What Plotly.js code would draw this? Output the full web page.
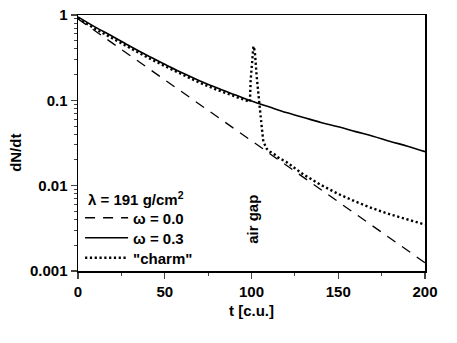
<!DOCTYPE html>
<html>
<head>
<meta charset="utf-8">
<script src="https://cdn.plot.ly/plotly-3.0.1.min.js"></script>
<style>
  html, body { margin: 0; padding: 0; background: #fff; }
  #chart { width: 457px; height: 343px; }
</style>
</head>
<body>
<div id="chart"></div>
<script>
var CHART = document.getElementById('chart');

// omega = 0.0 (dashed)
var tDash = [0, 25, 50, 75, 100, 125, 150, 175, 200];
var omega00 = [0.9, 0.395, 0.174, 0.0763, 0.0335, 0.0147, 0.00648, 0.00285, 0.00125];

// omega = 0.3 (solid)
var tSolid = [0, 10, 20, 30, 40, 50, 60, 70, 80, 90, 100, 110, 120, 130, 140, 150, 160, 170, 180, 190, 200];
var omega03 = [0.95, 0.72, 0.56, 0.43, 0.335, 0.265, 0.21, 0.17, 0.14, 0.117, 0.098, 0.084, 0.072, 0.063, 0.055, 0.049, 0.043, 0.038, 0.033, 0.029, 0.025];

// "charm" (dotted), with the air gap spike near t = 100
var tCharm = [0, 10, 20, 30, 40, 50, 60, 70, 80, 90, 95, 98, 99.1, 99.5, 100.1, 100.7, 101.1, 101.6, 102, 103, 103.9, 104.9, 105.9, 106.8, 108.8, 110.7, 113, 116, 120, 130, 140, 150, 160, 170, 180, 190, 200];
var charm = [0.92, 0.685, 0.53, 0.41, 0.318, 0.252, 0.2, 0.161, 0.133, 0.111, 0.102, 0.097, 0.096, 0.17, 0.27, 0.39, 0.43, 0.40, 0.355, 0.19, 0.11, 0.077, 0.049, 0.033, 0.027, 0.025, 0.0235, 0.021, 0.019, 0.0135, 0.0102, 0.008, 0.0065, 0.0054, 0.0046, 0.004, 0.0035];

var yTicks = [0.001, 0.01, 0.1, 1];
var yTickText = ['0.001', '0.01', '0.1', '1'];

var FONT = 'Liberation Sans, Arial, sans-serif';

var trace1 = {
  x: tDash,
  y: omega00,
  name: '<b>\u03c9 = 0.0</b>',
  mode: 'lines',
  legend: 'legend',
  line: { color: '#000', width: 1.3, dash: '10px,8px' }
};

var trace2 = {
  x: tSolid,
  y: omega03,
  name: '<b>\u03c9 = 0.3</b>',
  mode: 'lines',
  legend: 'legend2',
  line: { color: '#000', width: 1.6, shape: 'spline' }
};

var trace3 = {
  x: tCharm,
  y: charm,
  name: '<b>"charm"</b>',
  mode: 'lines',
  legend: 'legend3',
  line: { color: '#000', width: 2.4, dash: '2.2px,2.6px' }
};

function legendAt(y) {
  return {
    x: 0.006,
    y: y,
    xanchor: 'left',
    yanchor: 'middle',
    bgcolor: 'rgba(0,0,0,0)',
    borderwidth: 0,
    itemwidth: 43,
    font: { family: FONT, size: 15, color: '#000' }
  };
}

var layout = {
  width: 457,
  height: 343,
  margin: { l: 78, r: 32, t: 15, b: 72 },
  paper_bgcolor: '#fff',
  plot_bgcolor: '#fff',
  font: { family: FONT, size: 15, color: '#000' },
  showlegend: true,
  xaxis: {
    range: [0, 200],
    tickvals: [0, 50, 100, 150, 200],
    ticks: 'outside',
    ticklen: 6,
    tickwidth: 1.3,
    showgrid: false,
    zeroline: false,
    showline: true,
    linewidth: 1.5,
    linecolor: '#000',
    mirror: true,
    tickfont: { family: FONT, size: 15, weight: 'bold' },
    minor: { dtick: 25, ticks: 'outside', ticklen: 3, tickwidth: 1, showgrid: false },
    title: { text: '<b>t [c.u.]</b>', font: { family: FONT, size: 15 }, standoff: 7 }
  },
  yaxis: {
    type: 'log',
    range: [-3, 0],
    tickvals: yTicks,
    ticktext: yTickText,
    ticks: 'outside',
    ticklen: 6,
    tickwidth: 1.3,
    showgrid: false,
    zeroline: false,
    showline: true,
    linewidth: 1.5,
    linecolor: '#000',
    mirror: true,
    tickfont: { family: FONT, size: 15, weight: 'bold' },
    minor: { dtick: 'D1', ticks: 'outside', ticklen: 3, tickwidth: 1, showgrid: false }
  },
  legend: legendAt(0.207),
  legend2: legendAt(0.129),
  legend3: legendAt(0.051),
  annotations: [{
    x: 100.9,
    y: -2.4,
    xref: 'x',
    yref: 'y',
    text: '<b>air gap</b>',
    textangle: -90,
    showarrow: false,
    font: { family: FONT, size: 15, color: '#000' }
  }, {
    x: 0.022,
    y: 0.285,
    xref: 'paper',
    yref: 'paper',
    xanchor: 'left',
    yanchor: 'middle',
    text: '<b>\u03bb = 191 g/cm<sup>2</sup></b>',
    showarrow: false,
    font: { family: FONT, size: 15, color: '#000' }
  }, {
    x: -0.179,
    y: 0.461,
    xref: 'paper',
    yref: 'paper',
    xanchor: 'center',
    yanchor: 'middle',
    text: '<b>dN/dt</b>',
    textangle: -90,
    showarrow: false,
    font: { family: FONT, size: 15, color: '#000' }
  }]
};

Plotly.newPlot(CHART, [trace1, trace2, trace3], layout, { displayModeBar: false, staticPlot: true });
</script>
</body>
</html>
